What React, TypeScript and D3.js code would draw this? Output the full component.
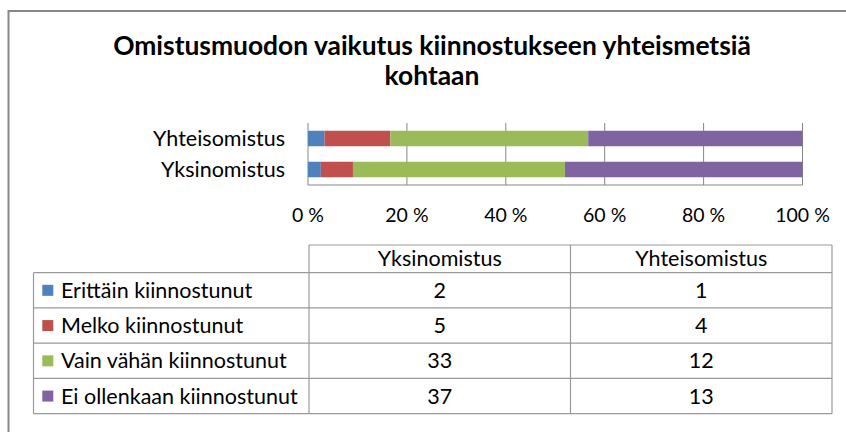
import React from "react";
import * as d3 from "d3";

const categories = ["Yhteisomistus", "Yksinomistus"];
const tableColumns = ["Yksinomistus", "Yhteisomistus"];
const seriesNames = [
  "Erittäin kiinnostunut",
  "Melko kiinnostunut",
  "Vain vähän kiinnostunut",
  "Ei ollenkaan kiinnostunut",
];
const yksinomistus = [2, 5, 33, 37];
const yhteisomistus = [1, 4, 12, 13];
const colors = ["#4F81BD", "#C0504D", "#9BBB59", "#8064A2"];
const tickValues = [0, 0.2, 0.4, 0.6, 0.8, 1];
const tickLabels = ["0 %", "20 %", "40 %", "60 %", "80 %", "100 %"];
const titleLines = ["Omistusmuodon vaikutus kiinnostukseen yhteismetsiä", "kohtaan"];

const FONT = "Lato, 'Open Sans', sans-serif";

export default function App() {
  const W = 846;
  const H = 432;
  const x = d3.scaleLinear().domain([0, 1]).range([308, 802.5]);
  const y = d3
    .scaleBand<string>()
    .domain(categories)
    .range([123, 185])
    .paddingInner(0.5)
    .paddingOuter(0.25);

  const valuesByCat: Record<string, number[]> = {
    Yksinomistus: yksinomistus,
    Yhteisomistus: yhteisomistus,
  };
  const rows = categories.map((c) => {
    const o: any = { cat: c };
    seriesNames.forEach((s, i) => (o[s] = valuesByCat[c][i]));
    return o;
  });
  const stack = d3.stack<any>().keys(seriesNames).offset(d3.stackOffsetExpand);
  const stacked = stack(rows);

  // table geometry
  const tLeft = 33.5;
  const tColX = [309, 570.5, 832];
  const headTop = 245;
  const rowTop = 272.7;
  const rowH = 35.25;
  const rowY = d3.range(5).map((i) => rowTop + i * rowH);
  const colCenter = (i: number) => (tColX[i] + tColX[i + 1]) / 2;
  const tableValues = [yksinomistus, yhteisomistus];
  const lineCol = "#9a9a9a";
  const FS = 21.5;

  return (
    <svg
      width={W}
      height={H}
      style={{ position: "absolute", left: 0, top: 0, display: "block", background: "#fff" }}
      fontFamily={FONT}
    >
      <rect x={0} y={0} width={W} height={H} fill="#fff" />
      {/* outer frame */}
      <path d={`M8.5,${H + 5} V11 H${W + 5}`} fill="none" stroke="#888" strokeWidth={2} />

      {/* title */}
      {titleLines.map((t, i) => (
        <text
          key={i}
          x={432}
          y={55 + i * 30}
          textAnchor="middle"
          fontWeight="bold"
          fontSize={26.4}
          fill="#000"
        >
          {t}
        </text>
      ))}

      {/* gridlines */}
      {tickValues.map((v, i) => (
        <line
          key={i}
          x1={x(v)}
          x2={x(v)}
          y1={123}
          y2={185}
          stroke="#868686"
          strokeWidth={1}
        />
      ))}
      <line x1={x(0)} x2={x(1)} y1={185} y2={185} stroke="#868686" strokeWidth={1} />

      {/* bars */}
      {stacked.map((layer, li) =>
        layer.map((d, di) => (
          <rect
            key={`${li}-${di}`}
            x={x(d[0])}
            y={y(d.data.cat)}
            width={x(d[1]) - x(d[0])}
            height={y.bandwidth()}
            fill={colors[li]}
          />
        ))
      )}

      {/* category labels */}
      {categories.map((c) => (
        <text
          key={c}
          x={285}
          y={(y(c) as number) + y.bandwidth() / 2}
          dy="0.35em"
          textAnchor="end"
          fontSize={FS}
          fill="#000"
        >
          {c}
        </text>
      ))}

      {/* tick labels */}
      {tickValues.map((v, i) => (
        <text key={i} x={x(v)} y={221.5} textAnchor="middle" fontSize={19.5} fill="#000">
          {tickLabels[i]}
        </text>
      ))}

      {/* data table */}
      <g stroke={lineCol} strokeWidth={1.2} fill="none">
        <line x1={tColX[0]} x2={tColX[2]} y1={headTop} y2={headTop} />
        {rowY.map((ry, i) => (
          <line key={i} x1={tLeft} x2={tColX[2]} y1={ry} y2={ry} />
        ))}
        <line x1={tLeft} x2={tLeft} y1={rowY[0]} y2={rowY[4]} />
        {tColX.map((cx, i) => (
          <line key={i} x1={cx} x2={cx} y1={headTop} y2={rowY[4]} />
        ))}
      </g>
      {tableColumns.map((c, i) => (
        <text
          key={c}
          x={colCenter(i)}
          y={(headTop + rowTop) / 2}
          dy="0.35em"
          textAnchor="middle"
          fontSize={FS}
          fill="#000"
        >
          {c}
        </text>
      ))}
      {seriesNames.map((s, i) => {
        const cy = rowY[i] + rowH / 2;
        return (
          <g key={s}>
            <rect x={42.3} y={cy - 5.5} width={11} height={11} fill={colors[i]} />
            <text x={61} y={cy} dy="0.35em" fontSize={FS} fill="#000">
              {s}
            </text>
            {tableValues.map((vals, ci) => (
              <text
                key={ci}
                x={colCenter(ci)}
                y={cy}
                dy="0.35em"
                textAnchor="middle"
                fontSize={FS}
                fill="#000"
              >
                {vals[i]}
              </text>
            ))}
          </g>
        );
      })}
    </svg>
  );
}
